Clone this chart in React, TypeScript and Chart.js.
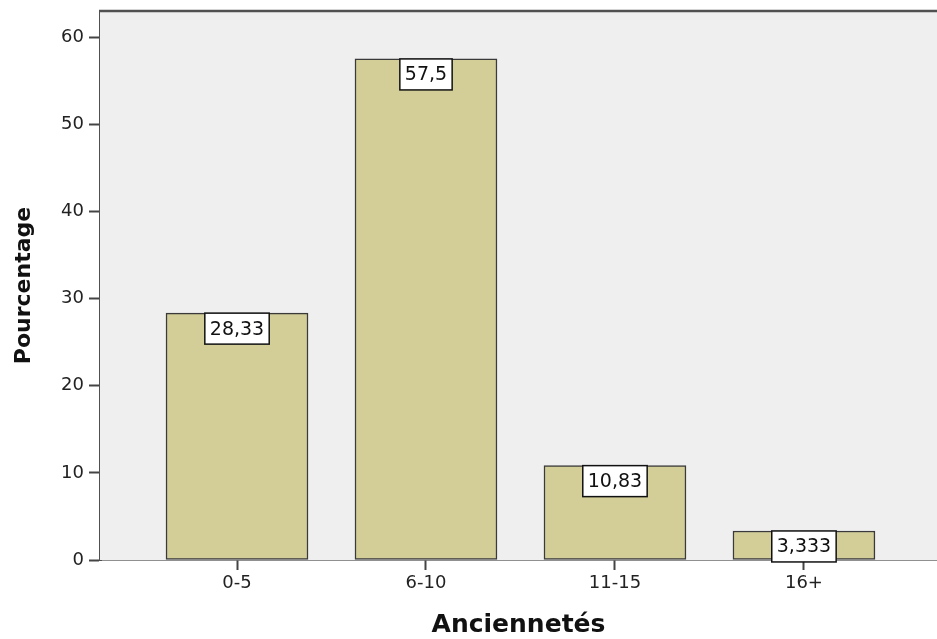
import React, { useEffect, useRef } from "react";
import { Chart, registerables } from "chart.js";

Chart.register(...registerables);

// Ancienneté groups and their share of respondents (%)
const categories = ["0-5", "6-10", "11-15", "16+"];
const percentages = [28.33, 57.5, 10.83, 3.333];
const yTicks = [0, 10, 20, 30, 40, 50, 60];

const FONT = "'DejaVu Sans', Verdana, sans-serif";
const PLOT_BG = "#efefef";
const BAR_FILL = "#d3ce97";
const BAR_EDGE = "#3a3a3a";

const formatFr = (v: number) => String(v).replace(".", ",");

// Light grey plot background plus the dark frame line along the top
const plotFrame = {
  id: "plotFrame",
  beforeDatasetsDraw(chart: any) {
    const { ctx, chartArea } = chart;
    ctx.save();
    ctx.fillStyle = PLOT_BG;
    ctx.fillRect(chartArea.left, chartArea.top, chartArea.right - chartArea.left, chartArea.bottom - chartArea.top);
    ctx.restore();
  },
  afterDraw(chart: any) {
    const { ctx, chartArea } = chart;
    ctx.save();
    ctx.strokeStyle = "#505050";
    ctx.lineWidth = 2.5;
    ctx.beginPath();
    ctx.moveTo(chartArea.left - 1, chartArea.top);
    ctx.lineTo(chartArea.right, chartArea.top);
    ctx.stroke();
    ctx.restore();
  },
};

// Boxed value labels hanging from the top of each bar
const valueBoxes = {
  id: "valueBoxes",
  afterDatasetsDraw(chart: any) {
    const { ctx } = chart;
    const meta = chart.getDatasetMeta(0);
    ctx.save();
    ctx.font = `19px ${FONT}`;
    ctx.textAlign = "center";
    ctx.textBaseline = "middle";
    meta.data.forEach((bar: any, i: number) => {
      const text = formatFr(percentages[i]);
      const w = ctx.measureText(text).width + 10;
      const h = 31;
      const x = bar.x - w / 2;
      const y = bar.y;
      ctx.fillStyle = "#ffffff";
      ctx.fillRect(x, y, w, h);
      ctx.strokeStyle = "#111111";
      ctx.lineWidth = 1.5;
      ctx.strokeRect(x, y, w, h);
      ctx.fillStyle = "#111111";
      ctx.fillText(text, bar.x, y + h / 2 + 1);
    });
    ctx.restore();
  },
};

export default function App() {
  const canvasRef = useRef<HTMLCanvasElement | null>(null);

  useEffect(() => {
    if (!canvasRef.current) return;
    const chart = new Chart(canvasRef.current, {
      type: "bar",
      data: {
        datasets: [
          {
            data: percentages.map((v, i) => ({ x: i, y: v })),
            backgroundColor: BAR_FILL,
            borderColor: BAR_EDGE,
            borderWidth: 1.5,
            borderSkipped: false,
            barThickness: 142,
          },
        ],
      },
      options: {
        animation: false,
        responsive: false,
        devicePixelRatio: 1,
        layout: { padding: { top: 11, right: 0, left: 0, bottom: 0 } },
        plugins: {
          legend: { display: false },
          tooltip: { enabled: false },
        },
        scales: {
          x: {
            type: "linear",
            offset: false,
            min: -0.725,
            max: 3.704,
            afterBuildTicks: (axis: any) => {
              axis.ticks = categories.map((_, i) => ({ value: i }));
            },
            afterFit: (axis: any) => {
              axis.height = 79;
              axis.paddingLeft = 0;
              axis.paddingRight = 0;
            },
            ticks: {
              callback: (v: any) => categories[Math.round(Number(v))] ?? "",
              font: { family: FONT, size: 18 },
              color: "#222",
              padding: 3,
              maxRotation: 0,
              autoSkip: false,
            },
            grid: {
              offset: false,
              drawOnChartArea: false,
              drawTicks: true,
              tickLength: 10,
              tickWidth: 2,
              color: "#444",
            },
            border: { display: true, color: "#222", width: 1.5 },
            title: {
              display: true,
              text: "Anciennetés",
              font: { family: FONT, size: 25, weight: "bold", lineHeight: 1.1 },
              color: "#111",
              padding: { top: 0, bottom: 0 },
            },
          },
          y: {
            type: "linear",
            min: 0,
            max: 63,
            afterBuildTicks: (axis: any) => {
              axis.ticks = yTicks.map((v) => ({ value: v }));
            },
            afterFit: (axis: any) => {
              axis.width = 100;
              axis.paddingTop = 0;
              axis.paddingBottom = 0;
            },
            ticks: {
              font: { family: FONT, size: 18 },
              color: "#222",
              padding: 5,
            },
            grid: {
              drawOnChartArea: false,
              drawTicks: true,
              tickLength: 11,
              tickWidth: 2,
              color: "#444",
            },
            border: { display: true, color: "#505050", width: 3 },
            title: {
              display: true,
              text: "Pourcentage",
              font: { family: FONT, size: 22, weight: "bold", lineHeight: 1.2 },
              color: "#111",
              padding: { top: 11, bottom: 0 },
            },
          },
        },
      },
      plugins: [plotFrame, valueBoxes],
    } as any);
    return () => chart.destroy();
  }, []);

  return (
    <div style={{ position: "absolute", left: 0, top: 0, width: 937, height: 639, background: "#ffffff" }}>
      <canvas ref={canvasRef} width={937} height={639} style={{ display: "block" }} />
    </div>
  );
}
